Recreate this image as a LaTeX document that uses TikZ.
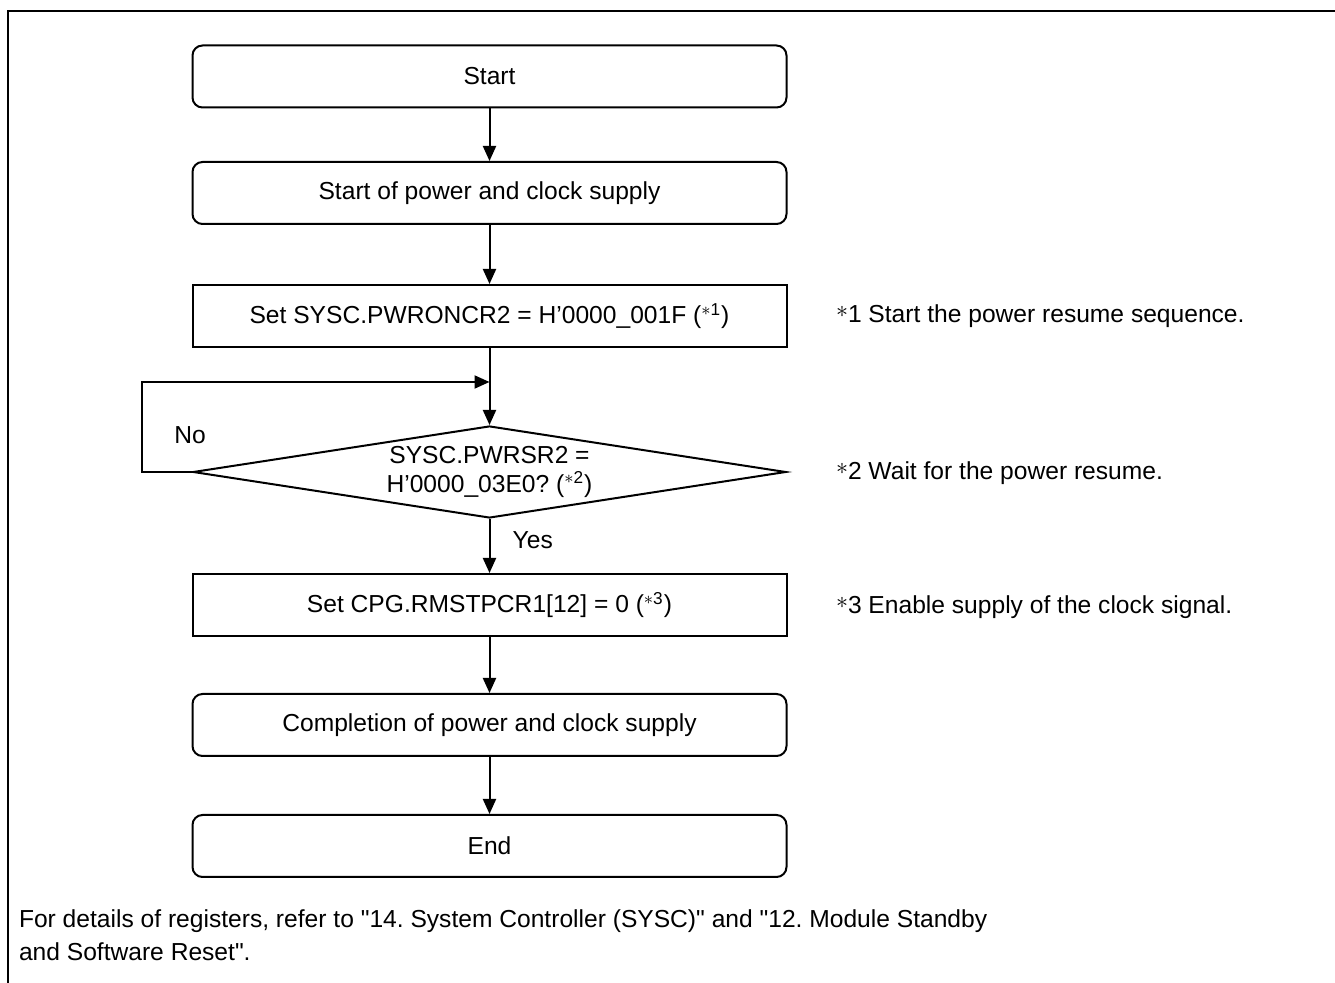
\documentclass[tikz,border=0pt]{standalone}
\usepackage{fontspec}
\setmainfont{Liberation Sans}
\usetikzlibrary{arrows.meta,shapes.geometric}
\frenchspacing
\newcommand{\fs}{\fontsize{12.3}{14.6}\selectfont}
\newcommand{\nt}[1]{\raisebox{0.4ex}{$\ast$}#1}% #1 = note number
\newcommand{\rf}[1]{(\textsuperscript{$\ast$#1})}% reference to a note

\begin{document}
\begin{tikzpicture}[
  x=0.5pt, y=-0.5pt,
  >={Triangle[length=7.5pt,width=6.5pt]},
  font=\fs,
  line width=1pt,
  term/.style={draw, rounded corners=5pt, minimum width=297pt, minimum height=31pt, inner sep=0pt},
  proc/.style={draw, minimum width=297pt, minimum height=31pt, inner sep=0pt},
  cond/.style={draw, diamond, aspect=6.4, minimum width=296.5pt, minimum height=46pt, inner sep=0pt, align=center},
  note/.style={anchor=west, inner sep=0pt},
]
  \useasboundingbox (0,0) rectangle (1335,983);
  \draw (8,983) -- (8,11) -- (1335,11);

  % ---------------- flow
  \node[term] (start) at (489.5,76.5) {Start};
  \node[term] (supply) at (489.5,193) {Start of power and clock supply};
  \node[proc] (pwron) at (489.5,316) {Set SYSC.PWRONCR2 = H'0000\_001F \rf{1}};
  \coordinate (join) at (489.5,382);
  \node[cond] (pwrsr) at (489.5,472) {SYSC.PWRSR2 =\\H'0000\_03E0? \rf{2}};
  \node[proc] (rmstp) at (489.5,605) {Set CPG.RMSTPCR1[12] = 0 \rf{3}};
  \node[term] (done) at (489.5,725) {Completion of power and clock supply};
  \node[term] (fin) at (489.5,846) {End};

  \draw[->] (start) -- (supply);
  \draw[->] (supply) -- (pwron);
  \draw[->] (pwron) -- (pwrsr);
  \draw[->] (pwrsr.west) -- ++(-50,0) |- (join);
  \draw[->] (pwrsr) -- (rmstp);
  \draw[->] (rmstp) -- (done);
  \draw[->] (done) -- (fin);
  \node (no) at (190,435) {No};
  \node[anchor=west] (yes) at (505,540) {Yes};

  % ---------------- notes
  \node[note] (n1) at (835,316) {\nt{1} Start the power resume sequence.};
  \node[note] (n2) at (835,473) {\nt{2} Wait for the power resume.};
  \node[note] (n3) at (835,607) {\nt{3} Enable supply of the clock signal.};

  \node[anchor=west, align=left, inner sep=0pt, font=\fontsize{12.3}{16.5}\selectfont] (foot) at (18,935)
    {For details of registers, refer to \textquotedbl14. System Controller (SYSC)\textquotedbl{} and \textquotedbl12. Module Standby\\and Software Reset\textquotedbl.};
\end{tikzpicture}
\end{document}
